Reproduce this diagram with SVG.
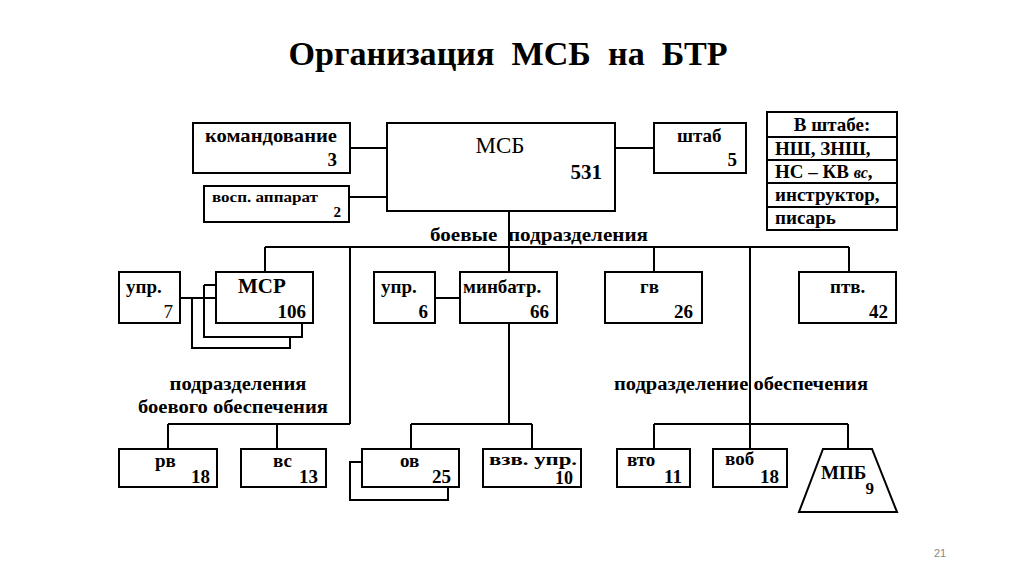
<svg xmlns="http://www.w3.org/2000/svg" width="1024" height="576" viewBox="0 0 1024 576">
<style>
.b{fill:#fff;stroke:#000;stroke-width:2}
.s{fill:none;stroke:#000;stroke-width:2}
.l{fill:none;stroke:#000;stroke-width:2}
text{font-family:"Liberation Serif","Times New Roman",serif;font-weight:bold;fill:#000}
.t{font-size:19px}
.n{font-size:19px;text-anchor:end}
.g{font-size:18px}
.p{white-space:pre}
</style>
<rect width="1024" height="576" fill="#fff"/>
<text class="p" xml:space="preserve" x="508" y="65" text-anchor="middle" font-size="33" textLength="439" lengthAdjust="spacingAndGlyphs">Организация  МСБ  на  БТР</text>
<g id="connectors">
<path class="l" d="M350 148H387M349 197H387M615 148H654"/>
<path class="l" d="M509 211V272M265 247H849M265 247V272M350 247V424M654 247V272M750 247V449M849 247V272"/>
<path class="l" d="M180 298H216M435 298H460"/>
<path class="l" d="M168 424H350M168 424V449M277 424V449"/>
<path class="l" d="M509 323V424M411 424H532M411 424V449M532 424V449"/>
<path class="l" d="M654 424H848M654 424V449M848 424V449"/>
</g>
<g id="msb"><rect class="b" x="387" y="123" width="228" height="88"/><text x="500" y="153" text-anchor="middle" font-size="23" style="font-weight:normal">МСБ</text><text x="602" y="179" class="n" style="font-size:21px">531</text></g>
<g id="komand"><rect class="b" x="193" y="123" width="157" height="50"/><text class="t" x="205" y="142" textLength="132" lengthAdjust="spacingAndGlyphs">командование</text><text class="n" x="337" y="166">3</text></g>
<g id="vosp"><rect class="b" x="204" y="186" width="145" height="36"/><text x="212" y="202" font-size="15" textLength="106" lengthAdjust="spacingAndGlyphs">восп. аппарат</text><text x="341" y="217" font-size="15" text-anchor="end">2</text></g>
<g id="shtab"><rect class="b" x="654" y="123" width="92" height="50"/><text class="t" x="677" y="142">штаб</text><text class="n" x="737" y="166">5</text></g>
<g id="vshtabe">
<rect class="b" x="767" y="112" width="130" height="118"/>
<path class="l" d="M767 137H897M767 160H897M767 183H897M767 207H897"/>
<text class="t" x="832" y="131" text-anchor="middle">В штабе:</text>
<text class="t" x="775" y="155">НШ, ЗНШ,</text>
<text class="t" x="775" y="178">НС – КВ <tspan font-style="italic" font-size="16">вс</tspan>,</text>
<text class="t" x="775" y="201">инструктор,</text>
<text class="t" x="775" y="224">писарь</text>
</g>
<text class="t p" xml:space="preserve" x="430" y="241" textLength="218" lengthAdjust="spacingAndGlyphs">боевые  подразделения</text>
<g id="upr7"><rect class="b" x="119" y="272" width="61" height="51"/><text class="t" x="126" y="293">упр.</text><text class="n" x="173" y="318" style="font-weight:normal">7</text></g>
<g id="msr">
<path class="s" d="M192 298V348H290V336"/>
<path class="s" d="M204 285H216M204 285V337H302V323"/>
<rect class="b" x="216" y="272" width="97" height="51"/>
<text class="t" x="238" y="293" style="font-size:21px">МСР</text><text class="n" x="306" y="318">106</text></g>
<g id="upr6"><rect class="b" x="374" y="272" width="61" height="51"/><text class="t" x="381" y="293">упр.</text><text class="n" x="428" y="318">6</text></g>
<g id="minbatr"><rect class="b" x="460" y="272" width="97" height="51"/><text class="t" x="463" y="293">минбатр.</text><text class="n" x="549" y="318">66</text></g>
<g id="gv"><rect class="b" x="605" y="272" width="97" height="51"/><text class="t" x="640" y="293">гв</text><text class="n" x="693" y="318">26</text></g>
<g id="ptv"><rect class="b" x="799" y="272" width="97" height="51"/><text class="t" x="830" y="293">птв.</text><text class="n" x="888" y="318">42</text></g>
<text class="g" x="238" y="390" text-anchor="middle" textLength="137" lengthAdjust="spacingAndGlyphs">подразделения</text>
<text class="g" x="233" y="413" text-anchor="middle" textLength="190" lengthAdjust="spacingAndGlyphs">боевого обеспечения</text>
<text class="g" x="614" y="390" textLength="254" lengthAdjust="spacingAndGlyphs">подразделение обеспечения</text>
<g id="rv"><rect class="b" x="119" y="449" width="98" height="38"/><text class="t" x="155" y="467">рв</text><text class="n" x="210" y="483">18</text></g>
<g id="vs"><rect class="b" x="241" y="449" width="85" height="38"/><text class="t" x="273" y="467">вс</text><text class="n" x="318" y="483">13</text></g>
<g id="ov"><path class="s" d="M362 462H350V500H448V487"/><rect class="b" x="362" y="449" width="97" height="38"/><text class="t" x="400" y="467">ов</text><text class="n" x="451" y="483">25</text></g>
<g id="vzv"><rect class="b" x="483" y="449" width="98" height="38"/><text x="489" y="465" font-size="17" textLength="88" lengthAdjust="spacingAndGlyphs">взв. упр.</text><text class="n" x="573" y="484" style="font-size:18px">10</text></g>
<g id="vto"><rect class="b" x="617" y="449" width="73" height="38"/><text class="t" x="627" y="466">вто</text><text class="n" x="682" y="483">11</text></g>
<g id="vob"><rect class="b" x="713" y="449" width="74" height="38"/><text class="t" x="725" y="465">воб</text><text class="n" x="779" y="483">18</text></g>
<g id="mpb"><path class="b" d="M823 449H872L897 512H799Z"/><text class="t" x="821" y="479">МПБ</text><text class="n" x="874" y="494" style="font-size:17px">9</text></g>
<text x="940" y="557" text-anchor="middle" font-size="11" style="font-weight:normal;fill:#888;font-family:'Liberation Sans',sans-serif">21</text>
</svg>
